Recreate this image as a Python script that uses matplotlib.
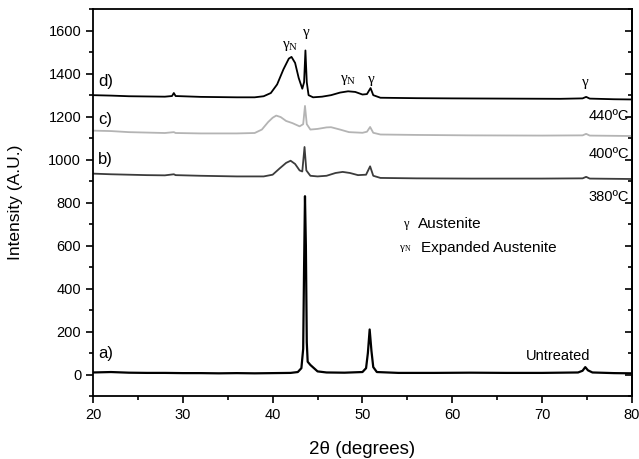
import numpy as np
import matplotlib.pyplot as plt
from matplotlib.ticker import MultipleLocator, NullFormatter

plt.rcParams['font.family'] = ['Liberation Sans', 'DejaVu Sans']

# a) untreated
a_x = [20, 22, 24, 26, 28, 30, 32, 34, 36, 38, 40, 42, 42.8, 43.2, 43.4, 43.5, 43.6, 43.7, 43.8,
       43.9, 44.2, 44.6, 45.0, 46, 48, 50, 50.4, 50.6, 50.8, 51.0, 51.2, 51.6, 54, 58, 62, 66,
       70, 74, 74.5, 74.8, 75.1, 75.6, 78, 80]
a_y = [10, 12, 9, 8, 8, 7, 7, 6, 7, 6, 7, 8, 12, 30, 120, 500, 830, 600, 150,
       60, 45, 30, 15, 10, 9, 12, 30, 100, 210, 110, 35, 12, 8, 8, 9, 8,
       8, 10, 18, 35, 20, 10, 7, 6]

# b) 380 C
b_x = [20, 22, 24, 26, 28, 29, 29.2, 32, 36, 39, 40, 40.8, 41.5, 42.0, 42.5, 43.0, 43.3, 43.55,
       43.75, 44.2, 45, 46, 47, 47.8, 48.6, 49.5, 50.4, 50.85, 51.2, 52, 56, 62, 70, 74.5,
       74.9, 75.3, 80]
b_y = [935, 932, 930, 928, 927, 932, 928, 925, 922, 922, 930, 960, 985, 995, 980, 950, 945, 1059,
       950, 925, 922, 925, 938, 943, 938, 928, 930, 969, 925, 915, 913, 912, 912, 913,
       920, 912, 910]

# c) 400 C
c_x = [20, 22, 24, 26, 28, 29, 29.2, 32, 36, 38, 38.8, 39.5, 40.0, 40.4, 40.9, 41.5, 42.2, 43.0,
       43.4, 43.6, 43.8, 44.2, 45.0, 46.0, 46.5, 47.5, 48.5, 50.0, 50.5, 50.85, 51.2, 52, 56,
       62, 70, 74.5, 74.9, 75.3, 80]
c_y = [1135, 1133, 1128, 1126, 1124, 1128, 1124, 1122, 1122, 1124, 1140, 1175, 1195, 1205, 1198,
       1180, 1170, 1155, 1165, 1250, 1165, 1140, 1143, 1150, 1151, 1140, 1128, 1125, 1130, 1152,
       1125, 1117, 1115, 1113, 1112, 1113, 1120, 1112, 1110]

# d) 440 C
d_x = [20, 22, 24, 26, 28, 28.8, 29.0, 29.2, 32, 36, 38, 39, 39.8, 40.5, 41.2, 41.8, 42.1, 42.5,
       42.9, 43.3, 43.5, 43.65, 43.8, 44.0, 44.5, 45.5, 46.5, 47.5, 48.4, 49.2, 50.0, 50.5,
       50.9, 51.2, 52, 56, 60, 66, 72, 74.5, 74.9, 75.3, 78, 80]
d_y = [1300, 1298, 1295, 1294, 1293, 1296, 1310, 1296, 1292, 1290, 1290, 1295, 1310, 1350, 1420,
       1470, 1478, 1450, 1380, 1330, 1360, 1508, 1360, 1300, 1290, 1293, 1300, 1312, 1318, 1315,
       1303, 1305, 1333, 1300, 1288, 1286, 1285, 1284, 1283, 1285, 1292, 1284, 1281, 1280]

fig = plt.figure(figsize=(6.39, 4.59), dpi=100)
ax = fig.add_axes([0.1455, 0.137, 0.8435, 0.843])

ax.plot(a_x, a_y, color='black', lw=1.6)
ax.plot(b_x, b_y, color='#3c3c3c', lw=1.3)
ax.plot(c_x, c_y, color='#b4b4b4', lw=1.3)
ax.plot(d_x, d_y, color='black', lw=1.3)

ax.set_xlim(20, 80)
ax.set_ylim(-100, 1700)
ax.xaxis.set_major_locator(MultipleLocator(10))
ax.xaxis.set_minor_locator(MultipleLocator(5))
ax.yaxis.set_major_locator(MultipleLocator(200))
ax.yaxis.set_minor_locator(MultipleLocator(100))
ax.tick_params(which='both', direction='out', labelsize=10.5, width=1.2)
ax.tick_params(which='major', length=5)
ax.tick_params(which='minor', length=3)
for s in ax.spines.values():
    s.set_linewidth(1.3)

# right side: inward ticks, no labels
sec = ax.secondary_yaxis('right')
sec.yaxis.set_major_locator(MultipleLocator(200))
sec.yaxis.set_minor_locator(MultipleLocator(100))
sec.yaxis.set_major_formatter(NullFormatter())
sec.tick_params(which='both', direction='in', width=1.2)
sec.tick_params(which='major', length=5)
sec.tick_params(which='minor', length=3)
sec.spines['right'].set_linewidth(1.3)

ax.set_xlabel('2θ (degrees)', fontsize=13.5, labelpad=14)
ax.set_ylabel('Intensity (A.U.)', fontsize=12.5)
ax.yaxis.set_label_coords(-0.13, 0.5)

# curve labels
for txt, yv in [('d)', 1365), ('c)', 1186), ('b)', 1000), ('a)', 98)]:
    ax.text(20.6, yv, txt, fontsize=12, va='center', ha='left')
for txt, yv in [('440ºC', 1205), ('400ºC', 1028), ('380ºC', 826)]:
    ax.text(79.7, yv, txt, fontsize=10.5, va='center', ha='right')
ax.text(71.8, 88, 'Untreated', fontsize=10.5, va='center', ha='center')

# phase markers
serif = ['Liberation Serif', 'DejaVu Serif']
ax.text(42.0, 1527, r'$\mathregular{\gamma_N}$', family=serif, fontsize=11, ha='center', va='center')
ax.text(43.7, 1590, 'γ', family=serif, fontsize=11, ha='center', va='center')
ax.text(48.4, 1372, r'$\mathregular{\gamma_N}$', family=serif, fontsize=11, ha='center', va='center')
ax.text(51.0, 1372, 'γ', family=serif, fontsize=11, ha='center', va='center')
ax.text(74.8, 1358, 'γ', family=serif, fontsize=11, ha='center', va='center')

ax.text(54.8, 700, 'γ', family=serif, fontsize=9, ha='center', va='center')
ax.text(56.2, 702, 'Austenite', fontsize=11, ha='left', va='center')
ax.text(54.8, 585, r'$\mathregular{\gamma_N}$', family=serif, fontsize=8, ha='center', va='center')
ax.text(56.5, 590, 'Expanded Austenite', fontsize=11, ha='left', va='center')

fig.savefig('out.png', dpi=100)
